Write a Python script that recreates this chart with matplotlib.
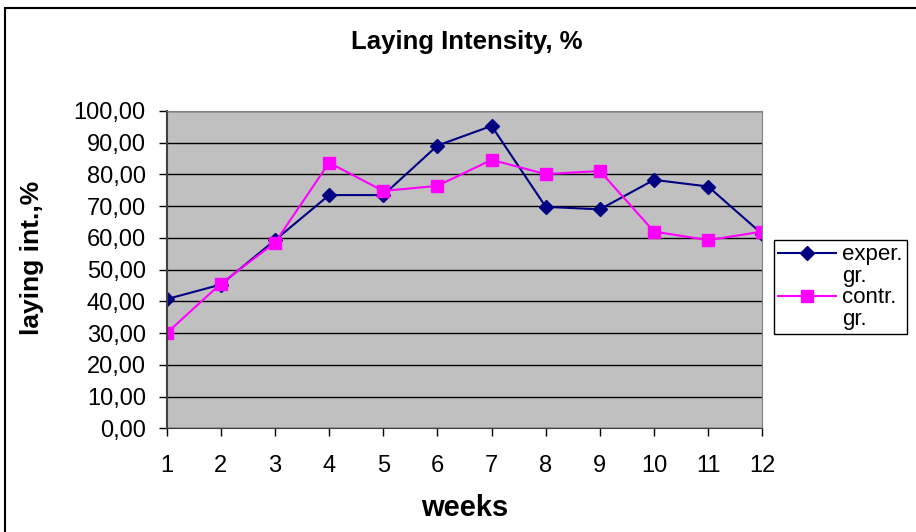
import matplotlib.pyplot as plt
from matplotlib.ticker import FuncFormatter
from matplotlib.patches import Rectangle
from matplotlib.lines import Line2D

plt.rcParams['font.family'] = ['Liberation Sans', 'DejaVu Sans']

weeks = [1, 2, 3, 4, 5, 6, 7, 8, 9, 10, 11, 12]
exper = [40.7, 45.3, 59.3, 73.5, 73.5, 89.1, 95.3, 69.8, 69.0, 78.3, 76.2, 61.2]
contr = [30.0, 45.6, 58.5, 83.7, 74.8, 76.4, 84.6, 80.1, 81.1, 62.0, 59.3, 62.0]

fig = plt.figure(figsize=(9.16, 5.32), dpi=100)
ax = fig.add_axes([166.7 / 916, 1 - 428.3 / 532, (762.3 - 166.7) / 916, (428.3 - 111) / 532])

# outer chart border
fig.patches.append(Rectangle((5 / 916, -0.01), 1.0, 1 - 8 / 532 + 0.01, transform=fig.transFigure,
                             fill=False, edgecolor='black', linewidth=1.5))

ax.set_facecolor('#C0C0C0')
l1, = ax.plot(weeks, exper, color='#000080', marker='D', markersize=7, linewidth=1.5)
l2, = ax.plot(weeks, contr, color='#FF00FF', marker='s', markersize=8.5, linewidth=1.5)

ax.set_xlim(1, 12)
ax.set_ylim(0, 100)
ax.set_yticks(range(0, 101, 10))
ax.set_xticks(weeks)
ax.yaxis.set_major_formatter(FuncFormatter(lambda v, p: f'{v:.2f}'.replace('.', ',')))
ax.grid(axis='y', color='black', linewidth=1)
ax.set_axisbelow(True)
for s in ['top', 'right']:
    ax.spines[s].set_color('#808080')
ax.spines['left'].set_color('#404040')
ax.spines['bottom'].set_color('#404040')
ax.spines['left'].set_linewidth(1.5)
ax.tick_params(axis='both', labelsize=17, length=6, width=1, direction='out')
ax.tick_params(axis='x', pad=13)
ax.tick_params(axis='y', pad=9)

fig.text(467 / 916, 1 - 42 / 532, 'Laying Intensity, %', ha='center', va='center', fontsize=18.5, fontweight='bold')
fig.text(465 / 916, 1 - 508 / 532, 'weeks', ha='center', va='center', fontsize=21, fontweight='bold')
fig.text(32 / 916, 1 - 258 / 532, 'laying int.,%', ha='center', va='center', rotation=90,
         fontsize=19, fontweight='bold')

blank = Line2D([], [], linestyle='none')
leg = fig.legend(handles=[l1, blank, l2, blank], labels=['exper.', 'gr.', 'contr.', 'gr.'],
                 loc='upper left', bbox_to_anchor=(774 / 916, 1 - 240 / 532),
                 fontsize=16, frameon=True, fancybox=False, edgecolor='black', framealpha=1,
                 handlelength=2.6, borderpad=0.2, labelspacing=0.02, handletextpad=0.25,
                 borderaxespad=0)
leg.get_frame().set_linewidth(1)

fig.savefig('out.png', dpi=100)
